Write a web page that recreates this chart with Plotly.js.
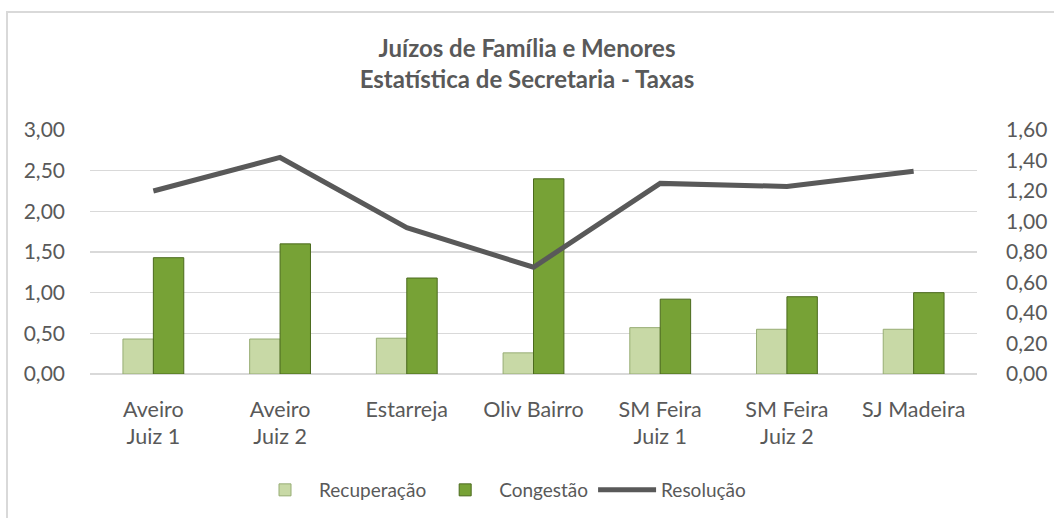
<!DOCTYPE html>
<html>
<head>
<meta charset="utf-8">
<script src="https://cdn.plot.ly/plotly-3.0.1.min.js"></script>
<style>
  html, body { margin: 0; padding: 0; background: #fff; }
  #wrap { position: relative; width: 1054px; height: 518px; overflow: hidden; }
  #chart { width: 1054px; height: 518px; }
  #frame { position: absolute; left: 6px; top: 11px; width: 1100px; height: 600px;
           border: 2px solid #d9d9d9; pointer-events: none; box-sizing: border-box; }
</style>
</head>
<body>
<div id="wrap">
  <div id="chart"></div>
  <div id="frame"></div>
</div>
<script>
const categories = ["Aveiro<br>Juiz 1", "Aveiro<br>Juiz 2", "Estarreja", "Oliv Bairro", "SM Feira<br>Juiz 1", "SM Feira<br>Juiz 2", "SJ Madeira"];
const recuperacao = [0.43, 0.43, 0.44, 0.26, 0.57, 0.55, 0.55];
const congestao   = [1.43, 1.60, 1.18, 2.40, 0.92, 0.95, 1.00];
const resolucao   = [1.20, 1.42, 0.96, 0.70, 1.25, 1.23, 1.33];
const leftTicks  = [0, 0.5, 1, 1.5, 2, 2.5, 3];
const rightTicks = [0, 0.2, 0.4, 0.6, 0.8, 1.0, 1.2, 1.4, 1.6];

const FONT = "Lato, 'Open Sans', sans-serif";
const GREY = "#595959";

const traces = [
  {
    type: "bar", name: "Recuperação", x: categories, y: recuperacao,
    marker: { color: "#c8d9a6", line: { color: "#97ad74", width: 1 } },
    hoverinfo: "skip"
  },
  {
    type: "bar", name: "Congestão", x: categories, y: congestao,
    marker: { color: "#77a236", line: { color: "#4b6a1d", width: 1 } },
    hoverinfo: "skip"
  },
  {
    type: "scatter", mode: "lines", name: "Resolução", x: categories, y: resolucao,
    yaxis: "y2",
    line: { color: GREY, width: 5 },
    hoverinfo: "skip"
  }
];

const layout = {
  width: 1054, height: 518,
  margin: { l: 90, r: 77, t: 130, b: 144 },
  paper_bgcolor: "#ffffff", plot_bgcolor: "#ffffff",
  separators: ",.",
  font: { family: FONT, size: 20, color: GREY },
  title: {
    text: "<b>Juízos de Família e Menores</b><br><b>Estatística de Secretaria - Taxas</b>",
    font: { family: FONT, size: 24, color: GREY },
    x: 0.5, xref: "container", xanchor: "center",
    y: 1 - 57 / 518, yref: "container", yanchor: "middle"
  },
  barmode: "group", bargap: 0.52, bargroupgap: 0,
  xaxis: {
    type: "category",
    showgrid: false, zeroline: false, showline: false,
    ticks: "", tickfont: { family: FONT, size: 21.5, color: GREY },
    ticklabelstandoff: 20
  },
  yaxis: {
    range: [0, 3], tickvals: leftTicks, tickformat: ".2f",
    showgrid: true, gridcolor: "#d9d9d9", gridwidth: 1.5,
    zeroline: true, zerolinecolor: "#d9d9d9", zerolinewidth: 1.5,
    showline: false, ticks: "",
    tickfont: { family: FONT, size: 21, color: GREY },
    ticklabelstandoff: 24
  },
  yaxis2: {
    range: [0, 1.6], tickvals: rightTicks, tickformat: ".2f",
    overlaying: "y", side: "right",
    showgrid: false, zeroline: false, showline: false, ticks: "",
    tickfont: { family: FONT, size: 21, color: GREY },
    ticklabelstandoff: 28
  },
  showlegend: true,
  legend: {
    orientation: "h",
    xref: "container", yref: "container",
    x: 501 / 1054, xanchor: "center",
    y: 1 - 490 / 518, yanchor: "middle",
    font: { family: FONT, size: 19, color: GREY },
    itemwidth: 58, traceorder: "normal"
  }
};

Plotly.newPlot("chart", traces, layout, { staticPlot: true, displayModeBar: false });
</script>
</body>
</html>
